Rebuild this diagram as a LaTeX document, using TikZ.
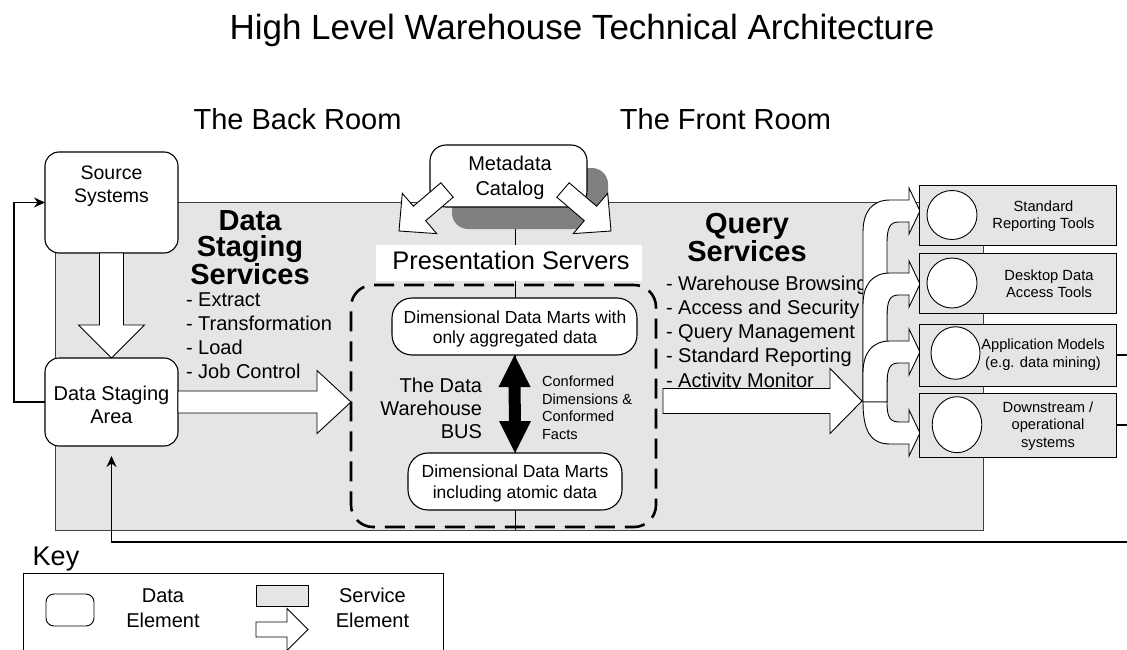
\documentclass[tikz,border=0pt]{standalone}
\usepackage{fontspec}
\setmainfont{Liberation Sans}
\usetikzlibrary{calc,fit,arrows.meta,shapes.geometric}
\newcommand\myfs[2]{\fontsize{#1}{#2}\selectfont}
% block arrow: style, from, to, shaft half width, head half width, head length
\newcommand\blockarrow[6]{%
  \coordinate (bahead) at ($#3!#6!#2$);
  \draw[#1] ($#2!#4!90:#3$) -- ($(bahead)!#4!90:#3$) -- ($(bahead)!#5!90:#3$) -- #3
    -- ($(bahead)!#5!-90:#3$) -- ($(bahead)!#4!-90:#3$) -- ($#2!#4!-90:#3$) -- cycle;}
% curved fan arrow going up to a tool box centred at y=#1
\newcommand\fanup[1]{%
  \draw[svc] (863,402) -- (863,#1+21) .. controls (863,#1+1) and (872,#1-11) .. (890,#1-11)
    -- (909,#1-11) -- (909,#1-23) -- (920,#1) -- (909,#1+23) -- (909,#1+11) -- (899,#1+11)
    .. controls (890,#1+11) and (887,#1+16) .. (887,#1+33) -- (887,402) -- cycle;}
\begin{document}
\begin{tikzpicture}[x=1pt,y=-1pt,
  every node/.style={inner sep=0pt, outer sep=0pt},
  datael/.style={draw, line width=1.1pt, fill=white, rounded corners=#1},
  datael/.default=14pt,
  svc/.style={draw, line width=0.9pt, fill=white, line join=miter},
  toolbox/.style={draw, line width=0.9pt, fill=black!10},
  hole/.style={draw, line width=0.9pt, fill=white, ellipse},
  fb/.style={draw, line width=1.3pt, -{Stealth[length=11pt,width=10pt]}},
]
\useasboundingbox (0,0) rectangle (1127,650);

% titles
\node[anchor=base, font=\myfs{35}{40}] (title) at (582,40) {High Level Warehouse Technical Architecture};
\node[anchor=base, font=\myfs{29}{33}] (back) at (297.5,130) {The Back Room};
\node[anchor=base, font=\myfs{29}{33}] (front) at (725.5,130) {The Front Room};

% service background
\node[draw=black!75, line width=0.8pt, fill=black!10, fit={(55,202) (983,530)}] (bg) {};
\draw[line width=0.8pt] (515.5,229) -- (515.5,530);

% feedback loop (bottom)
\coordinate (loopR) at (1127,542);
\coordinate (dsabot) at (111.5,446);
\draw[fb, shorten >=10pt] (loopR) -| (dsabot);

% metadata
\node[fill=black!50, rounded corners=16pt, fit={(452,168) (608,229)}] (shadow) {};
\node[datael=16pt, fit={(430,145) (587,207)}] (meta) {};
\node[align=center, font=\myfs{20}{25}] (metatxt) at (510,177.5) {Metadata\\Catalog};
\coordinate (mlS) at (447,190); \coordinate (mlT) at (399,231);
\blockarrow{svc}{(mlS)}{(mlT)}{9.5pt}{26.5pt}{27pt}
\coordinate (mrS) at (563,190); \coordinate (mrT) at (611,231);
\blockarrow{svc}{(mrS)}{(mrT)}{9.5pt}{26.5pt}{27pt}

% presentation servers
\node[fill=white, fit={(376,245) (642,281)}] (plabelbg) {};
\node[anchor=base, font=\myfs{25.4}{30}] (plabel) at (511,269) {Presentation Servers};
\node[draw, line width=2.6pt, dash pattern=on 20pt off 10pt, rounded corners=22pt, fit={(351,285) (656,527)}] (dwb) {};
\node[datael=20pt, fit={(392,298) (637,355)}] (agg) {};
\node[align=center, font=\myfs{17.5}{20.5}] (aggtxt) at (515,328.9) {Dimensional Data Marts with\\only aggregated data};
\node[datael=20pt, fit={(408,453) (622,510)}] (atom) {};
\node[align=center, font=\myfs{17.5}{20.5}] (atomtxt) at (515,483.6) {Dimensional Data Marts\\including atomic data};
\fill (agg.south) -- ($(agg.south)+(16,32)$) -- ($(agg.south)+(6,32)$) -- ($(atom.north)+(6,-32)$)
  -- ($(atom.north)+(16,-32)$) -- (atom.north) -- ($(atom.north)+(-16,-32)$) -- ($(atom.north)+(-6,-32)$)
  -- ($(agg.south)+(-6,32)$) -- ($(agg.south)+(-16,32)$) -- cycle;
\node[anchor=east, align=right, font=\myfs{20}{23}] (bus) at (482,408) {The Data\\Warehouse\\BUS};
\node[anchor=west, align=left, font=\myfs{14.6}{17.5}] (conf) at (542,408) {Conformed\\Dimensions \&\\Conformed\\Facts};

% back room
\node[datael, fit={(45,152) (178,253)}] (src) {};
\node[align=center, font=\myfs{19.5}{23}] (srctxt) at (111.5,186.5) {Source\\Systems};
\node[datael, fit={(45,358) (178,446)}] (dsa) {};
\node[align=center, font=\myfs{20}{23}] (dsatxt) at (111.5,405.3) {Data Staging\\Area};
\draw[fb] (dsa.west) -- ++(-31,0) |- (src.west);
\blockarrow{svc}{(src.south)}{(dsa.north)}{12pt}{33pt}{33pt}
\coordinate (dsatip) at (dwb.west |- dsa.east);
\blockarrow{svc}{(dsa.east)}{(dsatip)}{11pt}{31.5pt}{34pt}
\node[align=center, font=\bfseries\myfs{29}{26}] (dss) at (250,248) {Data\\Staging\\Services};
\node[anchor=west, align=left, font=\myfs{20}{23.8}] (dsslist) at (186,335.6) {- Extract\\- Transformation\\- Load\\- Job Control};

% front room
\node[align=center, font=\bfseries\myfs{29}{27}] (qs) at (747,238) {Query\\Services};
\node[anchor=west, align=left, font=\myfs{20}{24.25}] (qlist) at (666,333.5) {- Warehouse Browsing\\- Access and Security\\- Query Management\\- Standard Reporting\\- Activity Monitor};
\coordinate (qS) at (663,401); \coordinate (fan) at (862,401);
\blockarrow{svc}{(qS)}{(fan)}{12.5pt}{32.5pt}{32pt}
\fanup{211}
\fanup{284}
\fanup{352}
\draw[svc] (887,402) .. controls (887,418) and (890,422) .. (900,422) -- (909,422) -- (909,410) -- (920,433)
  -- (909,456) -- (909,444) -- (890,444) .. controls (870,444) and (863,430) .. (863,402) -- cycle;

% tools
\node[toolbox, fit={(919,185) (1116,245)}] (t1) {};
\node[toolbox, fit={(919,253) (1116,313)}] (t2) {};
\node[toolbox, fit={(919,324) (1116,386)}] (t3) {};
\node[toolbox, fit={(919,393) (1116,457)}] (t4) {};
\node[hole, minimum width=50pt, minimum height=49pt] (h1) at (952,215) {};
\node[hole, minimum width=50pt, minimum height=50pt] (h2) at (952,283) {};
\node[hole, minimum width=49pt, minimum height=52.5pt] (h3) at (955.5,353) {};
\node[hole, minimum width=49.5pt, minimum height=56pt] (h4) at (957,424.7) {};
\node[align=center, font=\myfs{14.7}{17.5}] (t1txt) at (1043.5,216) {Standard\\Reporting Tools};
\node[align=center, font=\myfs{14.7}{17.5}] (t2txt) at (1049,283.7) {Desktop Data\\Access Tools};
\node[align=center, font=\myfs{14.7}{17.5}] (t3txt) at (1043,354.8) {Application Models\\(e.g. data mining)};
\node[align=center, font=\myfs{14.7}{17.5}] (t4txt) at (1048,425.8) {Downstream /\\operational\\systems};
\draw[line width=1.3pt] (t3.east) -- (t3.east -| loopR);
\draw[line width=1.3pt] (t4.east) -- (t4.east -| loopR);

% key
\node[anchor=base, font=\myfs{27}{30}] (key) at (56,565) {Key};
\node[draw, line width=0.9pt, fit={(23,573) (443,700)}] (keybox) {};
\node[datael=8pt, line width=0.9pt, fit={(46,594) (94,626)}] (kdata) {};
\node[align=center, font=\myfs{20}{25}] (kdatatxt) at (163,608.3) {Data\\Element};
\node[toolbox, fit={(256,585) (308,606)}] (ksvc) {};
\coordinate (kaS) at (256,629.5); \coordinate (kaT) at (308,629.5);
\blockarrow{svc}{(kaS)}{(kaT)}{7.5pt}{21pt}{21pt}
\node[align=center, font=\myfs{20}{25}] (ksvctxt) at (372.5,608.3) {Service\\Element};
\end{tikzpicture}
\end{document}
